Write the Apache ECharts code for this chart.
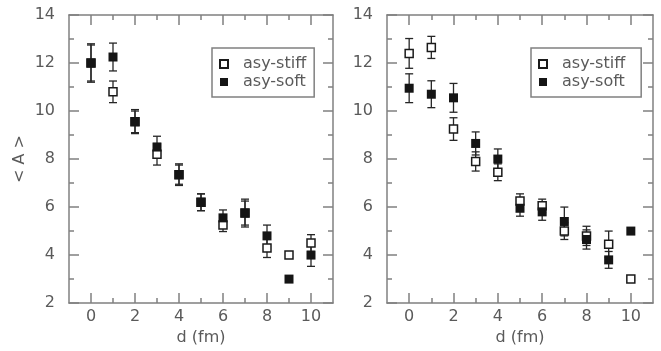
<!DOCTYPE html>
<html>
<head>
<meta charset="utf-8">
<script src="https://cdn.jsdelivr.net/npm/echarts@6/dist/echarts.min.js"></script>
<style>
  html, body { margin: 0; padding: 0; background: #fff; }
  #chart { width: 661px; height: 351px; }
</style>
</head>
<body>
<div id="chart"></div>
<script>
// distance values (fm)
const dVals = [0, 1, 2, 3, 4, 5, 6, 7, 8, 9, 10];
const xMajor = [0, 2, 4, 6, 8, 10];
const xMinor = [1, 3, 5, 7, 9];

// left panel
const leftStiff = [12.0, 10.8, 9.55, 8.2, 7.35, 6.2, 5.25, 5.75, 4.3, 4.0, 4.5];
const leftStiffErr = [0.75, 0.45, 0.45, 0.45, 0.4, 0.35, 0.27, 0.5, 0.4, 0, 0.35];
const leftSoft = [12.0, 12.25, 9.56, 8.5, 7.35, 6.2, 5.55, 5.75, 4.8, 3.0, 4.0];
const leftSoftErr = [0.8, 0.58, 0.5, 0.45, 0.45, 0.35, 0.33, 0.58, 0.45, 0, 0.47];

// right panel
const rightStiff = [12.4, 12.65, 9.25, 7.9, 7.45, 6.25, 6.05, 5.0, 4.8, 4.45, 3.0];
const rightStiffErr = [0.62, 0.46, 0.47, 0.4, 0.35, 0.3, 0.28, 0.35, 0.4, 0.55, 0];
const rightSoft = [10.95, 10.7, 10.55, 8.65, 8.0, 5.95, 5.8, 5.4, 4.65, 3.8, 5.0];
const rightSoftErr = [0.6, 0.56, 0.6, 0.48, 0.42, 0.33, 0.35, 0.6, 0.4, 0.35, 0];

const AXIS = '#808080';
const TEXT = '#5a5a5a';
const FONT = 'DejaVu Sans';

const chart = echarts.init(document.getElementById('chart'));

const zip = (vals, errs) => dVals.map((d, i) => [d, vals[i], errs ? errs[i] : 0]);

function renderErr(params, api) {
  const x = api.value(0), y = api.value(1), e = api.value(2);
  if (!e) return;
  const top = api.coord([x, y + e]);
  const bot = api.coord([x, y - e]);
  const w = 4;
  const st = { stroke: '#262626', lineWidth: 1.3 };
  return {
    type: 'group',
    children: [
      { type: 'line', shape: { x1: top[0], y1: top[1], x2: bot[0], y2: bot[1] }, style: st },
      { type: 'line', shape: { x1: top[0] - w, y1: top[1], x2: top[0] + w, y2: top[1] }, style: st },
      { type: 'line', shape: { x1: bot[0] - w, y1: bot[1], x2: bot[0] + w, y2: bot[1] }, style: st }
    ]
  };
}

const grids = [
  { left: 69, top: 15, width: 264, height: 291 },
  { left: 387, top: 15, width: 266, height: 291 }
];

const lineSt = { show: true, onZero: false, lineStyle: { color: AXIS, width: 1.5 } };

const xAxes = [];
const yAxes = [];
grids.forEach((g, gi) => {
  const base = {
    type: 'value', gridIndex: gi, min: -1, max: 11,
    splitLine: { show: false },
    axisLine: lineSt
  };
  // bottom, major ticks + labels
  xAxes.push(Object.assign({}, base, {
    position: 'bottom',
    name: 'd (fm)', nameLocation: 'middle', nameGap: 26,
    nameTextStyle: { fontFamily: FONT, fontSize: 16, color: TEXT },
    axisTick: { inside: true, length: 10, customValues: xMajor, lineStyle: { color: AXIS, width: 1.5 } },
    axisLabel: { customValues: xMajor, margin: 6, fontFamily: FONT, fontSize: 16, color: TEXT }
  }));
  // bottom, minor ticks
  xAxes.push(Object.assign({}, base, {
    position: 'bottom',
    axisLine: { show: false, onZero: false },
    axisTick: { inside: true, length: 5, customValues: xMinor, lineStyle: { color: AXIS, width: 1.5 } },
    axisLabel: { show: false }
  }));
  // top frame
  xAxes.push(Object.assign({}, base, {
    position: 'top',
    axisTick: { inside: true, length: 10, customValues: xMajor, lineStyle: { color: AXIS, width: 1.5 } },
    axisLabel: { show: false }
  }));
  xAxes.push(Object.assign({}, base, {
    position: 'top',
    axisLine: { show: false, onZero: false },
    axisTick: { inside: true, length: 5, customValues: xMinor, lineStyle: { color: AXIS, width: 1.5 } },
    axisLabel: { show: false }
  }));

  const ybase = {
    type: 'value', gridIndex: gi, min: 2, max: 14, interval: 2,
    splitLine: { show: false },
    axisLine: lineSt,
    axisTick: { inside: true, length: 10, lineStyle: { color: AXIS, width: 1.5 } },
    minorTick: { show: true, splitNumber: 2, length: 5, lineStyle: { color: AXIS, width: 1.5 } }
  };
  yAxes.push(Object.assign({}, ybase, {
    position: 'left',
    name: gi === 0 ? '< A >' : '', nameLocation: 'middle', nameGap: 41,
    nameTextStyle: { fontFamily: FONT, fontSize: 16, color: TEXT },
    axisLabel: { margin: 14, fontFamily: FONT, fontSize: 16, color: TEXT }
  }));
  yAxes.push(Object.assign({}, ybase, {
    position: 'right',
    axisLabel: { show: false }
  }));
});

const panels = [
  { stiff: leftStiff, stiffErr: leftStiffErr, soft: leftSoft, softErr: leftSoftErr },
  { stiff: rightStiff, stiffErr: rightStiffErr, soft: rightSoft, softErr: rightSoftErr }
];

const series = [];
panels.forEach((p, gi) => {
  const axes = { xAxisIndex: gi * 4, yAxisIndex: gi * 2 };
  series.push(Object.assign({
    type: 'custom', name: 'err-stiff', renderItem: renderErr,
    encode: { x: 0, y: 1 }, data: zip(p.stiff, p.stiffErr), z: 2, silent: true
  }, axes));
  series.push(Object.assign({
    type: 'custom', name: 'err-soft', renderItem: renderErr,
    encode: { x: 0, y: 1 }, data: zip(p.soft, p.softErr), z: 2, silent: true
  }, axes));
  series.push(Object.assign({
    type: 'scatter', name: 'asy-stiff', symbol: 'rect', symbolSize: 8,
    itemStyle: { color: '#fff', borderColor: '#1a1a1a', borderWidth: 1.5, opacity: 1 },
    data: zip(p.stiff), z: 3
  }, axes));
  series.push(Object.assign({
    type: 'scatter', name: 'asy-soft', symbol: 'rect', symbolSize: 9,
    itemStyle: { color: '#151515', opacity: 1 },
    data: zip(p.soft), z: 4
  }, axes));
});

const legendBase = {
  data: ['asy-stiff', 'asy-soft'],
  orient: 'vertical', top: 48,
  itemWidth: 8, itemHeight: 8, itemGap: 2,
  borderColor: AXIS, borderWidth: 1.5, borderRadius: 0,
  selectedMode: false,
  textStyle: { fontFamily: FONT, fontSize: 16, color: TEXT, padding: [0, 0, 0, 10] }
};

chart.setOption({
  backgroundColor: '#fff',
  animation: false,
  grid: grids,
  xAxis: xAxes,
  yAxis: yAxes,
  legend: [
    Object.assign({}, legendBase, { left: 212, padding: [8, 8, 7, 7] }),
    Object.assign({}, legendBase, { left: 531, padding: [8, 16, 7, 7] })
  ],
  series: series
});
</script>
</body>
</html>
